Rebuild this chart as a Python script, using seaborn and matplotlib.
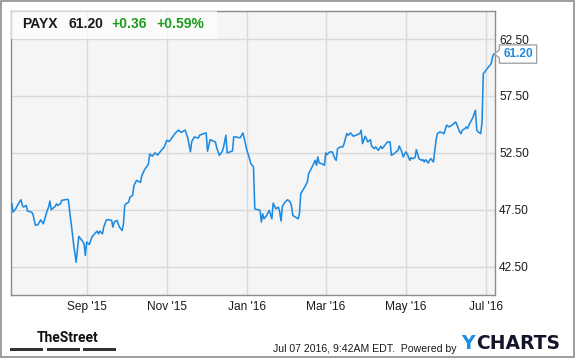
import matplotlib
matplotlib.use("Agg")
import numpy as np
import pandas as pd
import matplotlib.pyplot as plt
import matplotlib.dates as mdates
from matplotlib.patches import Polygon, Rectangle
from matplotlib.ticker import FixedLocator, FormatStrFormatter
import seaborn as sns

# ---------------- data ----------------
dates = [
    "2015-07-06", "2015-07-07", "2015-07-09", "2015-07-11", "2015-07-13", "2015-07-14", "2015-07-15",
    "2015-07-17", "2015-07-18", "2015-07-21", "2015-07-22", "2015-07-24", "2015-07-26", "2015-07-28",
    "2015-07-30", "2015-08-02", "2015-08-03", "2015-08-04", "2015-08-05", "2015-08-08", "2015-08-09",
    "2015-08-10", "2015-08-12", "2015-08-13", "2015-08-17", "2015-08-18", "2015-08-19", "2015-08-21",
    "2015-08-22", "2015-08-24", "2015-08-26", "2015-08-28", "2015-08-29", "2015-08-30", "2015-08-31",
    "2015-09-01", "2015-09-03", "2015-09-05", "2015-09-07", "2015-09-09", "2015-09-10", "2015-09-11",
    "2015-09-13", "2015-09-14", "2015-09-16", "2015-09-18", "2015-09-20", "2015-09-21", "2015-09-22",
    "2015-09-24", "2015-09-26", "2015-09-28", "2015-09-29", "2015-09-30", "2015-10-01", "2015-10-03",
    "2015-10-04", "2015-10-06", "2015-10-07", "2015-10-09", "2015-10-12", "2015-10-13", "2015-10-15",
    "2015-10-18", "2015-10-19", "2015-10-21", "2015-10-23", "2015-10-25", "2015-10-27", "2015-10-30",
    "2015-11-01", "2015-11-03", "2015-11-06", "2015-11-08", "2015-11-10", "2015-11-12", "2015-11-15",
    "2015-11-17", "2015-11-19", "2015-11-20", "2015-11-22", "2015-11-25", "2015-11-26", "2015-11-29",
    "2015-12-01", "2015-12-02", "2015-12-04", "2015-12-06", "2015-12-08", "2015-12-09", "2015-12-11",
    "2015-12-13", "2015-12-14", "2015-12-16", "2015-12-17", "2015-12-19", "2015-12-21", "2015-12-22",
    "2015-12-24", "2015-12-25", "2015-12-27", "2015-12-29", "2015-12-30", "2016-01-01", "2016-01-03",
    "2016-01-04", "2016-01-06", "2016-01-07", "2016-01-09", "2016-01-11", "2016-01-12", "2016-01-13",
    "2016-01-14", "2016-01-16", "2016-01-18", "2016-01-20", "2016-01-21", "2016-01-23", "2016-01-25",
    "2016-01-26", "2016-01-27", "2016-01-28", "2016-01-30", "2016-02-01", "2016-02-03", "2016-02-04",
    "2016-02-05", "2016-02-07", "2016-02-09", "2016-02-10", "2016-02-11", "2016-02-14", "2016-02-16",
    "2016-02-17", "2016-02-19", "2016-02-22", "2016-02-23", "2016-02-24", "2016-02-25", "2016-02-27",
    "2016-02-29", "2016-03-01", "2016-03-02", "2016-03-04", "2016-03-06", "2016-03-08", "2016-03-09",
    "2016-03-10", "2016-03-12", "2016-03-14", "2016-03-15", "2016-03-17", "2016-03-18", "2016-03-20",
    "2016-03-22", "2016-03-24", "2016-03-27", "2016-03-28", "2016-03-29", "2016-03-31", "2016-04-01",
    "2016-04-02", "2016-04-04", "2016-04-05", "2016-04-07", "2016-04-08", "2016-04-10", "2016-04-12",
    "2016-04-13", "2016-04-15", "2016-04-17", "2016-04-19", "2016-04-20", "2016-04-22", "2016-04-25",
    "2016-04-26", "2016-04-28", "2016-04-29", "2016-05-01", "2016-05-02", "2016-05-04", "2016-05-05",
    "2016-05-06", "2016-05-08", "2016-05-09", "2016-05-11", "2016-05-13", "2016-05-14", "2016-05-15",
    "2016-05-16", "2016-05-18", "2016-05-19", "2016-05-20", "2016-05-22", "2016-05-24", "2016-05-25",
    "2016-05-27", "2016-05-29", "2016-05-30", "2016-06-01", "2016-06-03", "2016-06-05", "2016-06-07",
    "2016-06-08", "2016-06-10", "2016-06-11", "2016-06-12", "2016-06-13", "2016-06-15", "2016-06-16",
    "2016-06-17", "2016-06-18", "2016-06-20", "2016-06-21", "2016-06-23", "2016-06-24", "2016-06-25",
    "2016-06-27", "2016-06-28", "2016-06-29", "2016-06-30", "2016-07-01", "2016-07-03", "2016-07-05",
    "2016-07-06", "2016-07-07",
]
prices = [
    48.08, 47.29, 47.58, 48.02, 48.38, 47.88, 47.73,
    47.88, 47.38, 47.29, 47.14, 46.12, 46.20, 46.61,
    46.26, 47.44, 47.73, 48.26, 47.50, 47.79, 48.02,
    47.88, 48.02, 48.32, 48.41, 48.38, 47.44, 45.53,
    44.50, 42.88, 45.15, 44.85, 44.71, 44.50, 43.47,
    44.65, 44.44, 45.09, 45.38, 45.62, 45.38, 45.62,
    45.38, 45.97, 46.61, 46.61, 46.56, 45.97, 46.41,
    46.56, 45.97, 45.67, 46.26, 47.88, 48.02, 48.17,
    48.61, 48.76, 49.64, 50.08, 49.90, 50.50, 51.00,
    51.50, 52.40, 52.20, 52.50, 52.30, 52.60, 53.00,
    53.60, 53.50, 54.00, 54.30, 54.50, 54.30, 54.50,
    53.80, 52.60, 53.50, 53.90, 53.80, 54.05, 54.19,
    54.25, 52.64, 53.66, 53.55, 53.46, 52.96, 52.28,
    52.58, 52.87, 54.05, 52.49, 52.58, 52.67, 53.90,
    53.90, 53.84, 53.84, 54.25, 53.75, 52.72, 51.99,
    51.55, 51.26, 47.58, 47.50, 47.44, 46.41, 47.14,
    46.70, 46.99, 47.44, 46.70, 48.08, 47.58, 47.73,
    47.29, 46.50, 47.79, 48.17, 48.38, 48.17, 47.79,
    46.99, 46.85, 46.70, 47.14, 48.91, 49.49, 49.93,
    50.67, 51.11, 51.84, 51.40, 52.14, 51.61, 51.55,
    51.40, 52.49, 52.34, 52.58, 52.58, 51.99, 51.84,
    52.87, 53.02, 53.02, 53.31, 54.19, 54.05, 54.25,
    53.96, 54.05, 54.19, 54.49, 53.31, 53.96, 53.75,
    53.46, 53.66, 53.08, 52.87, 53.02, 52.72, 53.08,
    52.87, 53.16, 53.46, 53.46, 52.28, 52.43, 52.72,
    53.10, 52.58, 52.14, 52.58, 52.43, 51.84, 52.08,
    51.99, 52.08, 52.78, 51.99, 51.84, 51.90, 51.70,
    51.90, 51.61, 51.84, 51.99, 51.70, 53.61, 54.19,
    54.34, 54.25, 54.19, 54.93, 54.78, 54.93, 55.13,
    55.22, 54.64, 54.34, 54.19, 54.49, 54.64, 54.78,
    54.64, 54.93, 55.37, 55.60, 56.25, 54.49, 54.34,
    54.19, 55.20, 59.47, 59.60, 59.77, 60.06, 60.35,
    60.94, 61.20,
]
y_ticks = [42.5, 47.5, 52.5, 57.5, 62.5]
ticker_symbol = "PAYX"
last_price = "61.20"
change_abs = "+0.36"
change_pct = "+0.59%"
timestamp_text = "Jul 07 2016, 9:42AM EDT.  Powered by"
brand_left = "TheStreet"

# ---------------- styling ----------------
W, H = 575, 358
sns.set_style("white")
plt.rcParams['font.family'] = ['Liberation Sans', 'DejaVu Sans']

LINE_BLUE = "#1e8be3"
GRID = "#d9d9d9"
FRAME = "#8c8c8c"
TXT = "#1a1a1a"

fig = plt.figure(figsize=(W / 100, H / 100), dpi=100)
fig.patch.set_facecolor("white")


def fx(px):
    return px / W


def fy(py):
    return 1 - py / H


left, right, top, bottom = 10.7, 494.5, 10.7, 295.0
ax = fig.add_axes([fx(left), fy(bottom), fx(right) - fx(left), fy(top) - fy(bottom)])
ax.set_facecolor("#f5f5f5")

df = pd.DataFrame({"date": pd.to_datetime(dates), "price": prices})
sns.lineplot(data=df, x="date", y="price", ax=ax, color=LINE_BLUE, linewidth=1.15, zorder=3)

ax.set_xlim(df["date"].iloc[0] - pd.Timedelta(hours=20), df["date"].iloc[-1] + pd.Timedelta(hours=12))
ax.set_ylim(40, 65)

ax.xaxis.set_major_locator(mdates.MonthLocator(bymonth=[1, 3, 5, 7, 9, 11]))
ax.xaxis.set_major_formatter(mdates.DateFormatter("%b '%y"))
ax.yaxis.set_major_locator(FixedLocator(y_ticks))
ax.yaxis.set_major_formatter(FormatStrFormatter("%.2f"))
ax.yaxis.tick_right()
ax.tick_params(axis="both", length=0, labelsize=8.6, colors=TXT)
ax.tick_params(axis="y", pad=3.3)
ax.tick_params(axis="x", pad=4.2)
ax.grid(True, color=GRID, linewidth=1.0, zorder=0)
ax.set_axisbelow(True)
ax.set_xlabel("")
ax.set_ylabel("")
for s in ax.spines.values():
    s.set_visible(True)
    s.set_color(FRAME)
    s.set_linewidth(1.0)

# header band (semi-transparent white)
ax.add_patch(Rectangle((fx(left), fy(39)), fx(217) - fx(left), fy(top) - fy(39),
                       transform=fig.transFigure, facecolor="white", alpha=0.65,
                       edgecolor="none", zorder=4))
hy = fy(23.5)
fig.text(fx(21.7), hy, ticker_symbol, fontsize=10, fontweight="bold", color=TXT, va="center", ha="left", zorder=5)
fig.text(fx(68.3), hy, last_price, fontsize=10, fontweight="bold", color=TXT, va="center", ha="left", zorder=5)
fig.text(fx(111.7), hy, change_abs, fontsize=10, fontweight="bold", color="#1b9c1b", va="center", ha="left", zorder=5)
fig.text(fx(156.7), hy, change_pct, fontsize=10, fontweight="bold", color="#1b9c1b", va="center", ha="left", zorder=5)

# price tag pointing at last value
last_disp = ax.transData.transform((mdates.date2num(df["date"].iloc[-1]), df["price"].iloc[-1]))
ly = H - last_disp[1]
tag = [(right, ly), (499.3, ly - 4), (499.3, ly - 9), (536.7, ly - 9), (536.7, ly + 9.3),
       (499.3, ly + 9.3), (499.3, ly + 4)]
fig.patches.append(Polygon([(fx(a), fy(b)) for a, b in tag], closed=True, transform=fig.transFigure,
                           facecolor="white", edgecolor="#9a9a9a", linewidth=0.9, zorder=5))
fig.text(fx(518.0), fy(ly + 0.3), last_price, fontsize=8.6, fontweight="bold", color=LINE_BLUE,
         ha="center", va="center", zorder=6)

# footer
fig.text(fx(36.5), fy(341.5), brand_left, fontsize=10, fontweight="bold", color="#111111",
         family=["Roboto", "Liberation Sans"], ha="left", va="baseline")
for x0, x1 in [(10, 43), (47, 79.5), (83, 116)]:
    fig.patches.append(Rectangle((fx(x0), fy(351.3)), fx(x1) - fx(x0), fy(348.3) - fy(351.3),
                                 transform=fig.transFigure, facecolor="#333333", edgecolor="none"))
fig.text(fx(273), fy(351.5), timestamp_text, fontsize=7.6, color=TXT, ha="left", va="baseline")
fig.text(fx(461.5), fy(349.3), "Y", fontsize=13.5, fontweight="bold", color="#1a8ee6",
         family=["DejaVu Sans"], ha="left", va="baseline")
fig.text(fx(476.5), fy(349.3), "CHARTS", fontsize=13.5, fontweight="bold", color="#14142b",
         family=["DejaVu Sans"], ha="left", va="baseline")

# outer frame
fig.patches.append(Rectangle((fx(1), fy(356.5)), fx(573.5) - fx(1), fy(1) - fy(356.5),
                             transform=fig.transFigure, fill=False, edgecolor=FRAME, linewidth=1.2))

fig.savefig("out.png", dpi=100, facecolor="white")
